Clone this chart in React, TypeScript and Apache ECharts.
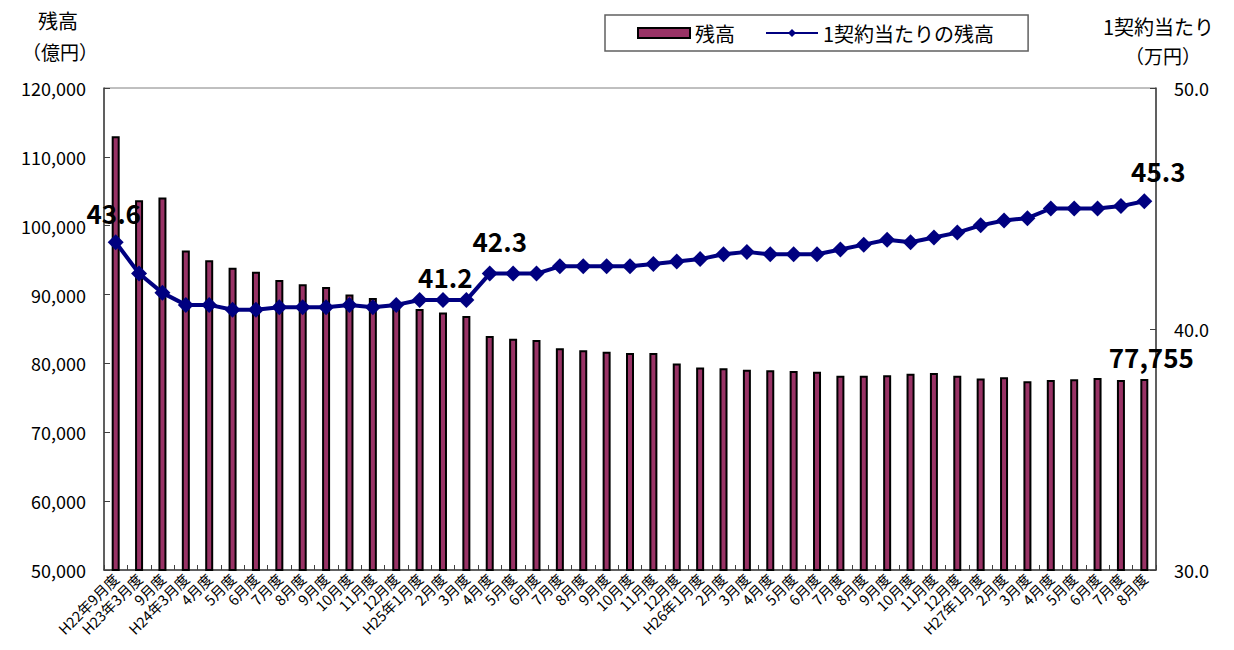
import React, { useEffect, useRef } from "react";
import * as echarts from "echarts";

const categories = [
  "H22年9月度", "H23年3月度", "9月度", "H24年3月度", "4月度", "5月度", "6月度", "7月度", "8月度", "9月度",
  "10月度", "11月度", "12月度", "H25年1月度", "2月度", "3月度", "4月度", "5月度", "6月度", "7月度",
  "8月度", "9月度", "10月度", "11月度", "12月度", "H26年1月度", "2月度", "3月度", "4月度", "5月度",
  "6月度", "7月度", "8月度", "9月度", "10月度", "11月度", "12月度", "H27年1月度", "2月度", "3月度",
  "4月度", "5月度", "6月度", "7月度", "8月度",
];

// 残高（億円）
const balance = [
  113000, 103700, 104100, 96400, 95000, 93900, 93300, 92100, 91500, 91100,
  90000, 89500, 88700, 87900, 87400, 86900, 84000, 83600, 83400, 82200,
  81900, 81700, 81500, 81500, 80000, 79400, 79300, 79100, 79000, 78900,
  78800, 78200, 78200, 78300, 78500, 78600, 78200, 77800, 78000, 77400,
  77600, 77700, 77900, 77600, 77755,
];

// 1契約当たりの残高（万円）
const perContract = [
  43.6, 42.3, 41.5, 41.0, 41.0, 40.8, 40.8, 40.9, 40.9, 40.9,
  41.0, 40.9, 41.0, 41.2, 41.2, 41.2, 42.3, 42.3, 42.3, 42.6,
  42.6, 42.6, 42.6, 42.7, 42.8, 42.9, 43.1, 43.2, 43.1, 43.1,
  43.1, 43.3, 43.5, 43.7, 43.6, 43.8, 44.0, 44.3, 44.5, 44.6,
  45.0, 45.0, 45.0, 45.1, 45.3,
];

const leftTicks = { min: 50000, max: 120000, interval: 10000 };
const rightTicks = { min: 30, max: 50, interval: 10 };

// labelled points: index -> offset
const lineLabels: Record<number, [number, number]> = {
  0: [-2, -9],
  15: [-21, -3],
  16: [10, -12],
  44: [14, -10],
};
const barLabels: Record<number, [number, number]> = {
  44: [7, -9],
};

const FONT = "'Noto Sans CJK JP', 'Noto Sans', sans-serif";

export default function App() {
  const ref = useRef<HTMLDivElement>(null);
  useEffect(() => {
    if (!ref.current) return;
    const chart = echarts.init(ref.current, undefined, { renderer: "svg" });
    const labelStyle = {
      show: true,
      position: "top" as const,
      distance: 0,
      fontSize: 26,
      fontWeight: "bold" as const,
      color: "#000",
      fontFamily: FONT,
    };
    const barData = balance.map((v, i) =>
      barLabels[i]
        ? {
            value: v,
            label: {
              ...labelStyle,
              offset: barLabels[i],
              formatter: (p: any) => Number(p.value).toLocaleString("en-US"),
            },
          }
        : v
    );
    const lineData = perContract.map((v, i) =>
      lineLabels[i]
        ? {
            value: v,
            label: {
              ...labelStyle,
              offset: lineLabels[i],
              formatter: (p: any) => Number(p.value).toFixed(1),
            },
          }
        : v
    );
    chart.setOption({
      animation: false,
      textStyle: { fontFamily: FONT },
      grid: {
        left: 104,
        right: 78,
        top: 88,
        bottom: 80,
        show: true,
        borderColor: "#808080",
        borderWidth: 1,
      },
      legend: {
        left: 605,
        top: 15,
        padding: [8, 34, 8, 32],
        itemGap: 30,
        itemWidth: 52,
        itemHeight: 10,
        borderColor: "#606060",
        borderWidth: 1.5,
        textStyle: { fontSize: 20, color: "#000", fontFamily: FONT },
        data: [
          { name: "残高", icon: "rect" },
          { name: "1契約当たりの残高" },
        ],
      },
      xAxis: {
        type: "category",
        data: categories,
        axisLine: { lineStyle: { color: "#404040", width: 1.5 } },
        axisTick: { show: true, inside: true, length: 5, lineStyle: { color: "#404040" } },
        axisLabel: {
          interval: 0,
          rotate: 45,
          fontSize: 14.5,
          color: "#000",
          margin: 6,
          fontFamily: FONT,
        },
      },
      yAxis: [
        {
          type: "value",
          ...leftTicks,
          position: "left",
          axisLine: { show: true, lineStyle: { color: "#404040", width: 1.5 } },
          axisTick: { show: true, inside: true, length: 6, lineStyle: { color: "#404040" } },
          splitLine: { show: false },
          axisLabel: {
            fontSize: 18,
            color: "#000",
            margin: 18,
            fontFamily: FONT,
            formatter: (v: number) => v.toLocaleString("en-US"),
          },
        },
        {
          type: "value",
          ...rightTicks,
          position: "right",
          axisLine: { show: true, lineStyle: { color: "#404040", width: 1.5 } },
          axisTick: { show: true, inside: true, length: 6, lineStyle: { color: "#404040" } },
          splitLine: { show: false },
          axisLabel: {
            fontSize: 18,
            color: "#000",
            margin: 18,
            fontFamily: FONT,
            formatter: (v: number) => v.toFixed(1),
          },
        },
      ],
      series: [
        {
          name: "残高",
          type: "bar",
          yAxisIndex: 0,
          barWidth: 8,
          data: barData,
          itemStyle: { color: "#993366", borderColor: "#000", borderWidth: 2 },
        },
        {
          name: "1契約当たりの残高",
          type: "line",
          yAxisIndex: 1,
          data: lineData,
          symbol: "diamond",
          symbolSize: 16,
          lineStyle: { color: "#000080", width: 4 },
          itemStyle: { color: "#000080" },
          z: 5,
        },
      ],
      graphic: [
        { type: "text", left: 38, top: 10, style: { text: "残高", fontSize: 20, fill: "#000", fontFamily: FONT } },
        { type: "text", left: 22, top: 42, style: { text: "（億円）", fontSize: 19, fill: "#000", fontFamily: FONT } },
        { type: "text", left: 1103, top: 16, style: { text: "1契約当たり", fontSize: 20, fill: "#000", fontFamily: FONT } },
        { type: "text", left: 1125, top: 46, style: { text: "（万円）", fontSize: 19, fill: "#000", fontFamily: FONT } },
      ],
    });
    return () => chart.dispose();
  }, []);
  return (
    <div
      ref={ref}
      style={{ position: "fixed", left: 0, top: 0, width: 1234, height: 650, background: "#fff" }}
    />
  );
}
